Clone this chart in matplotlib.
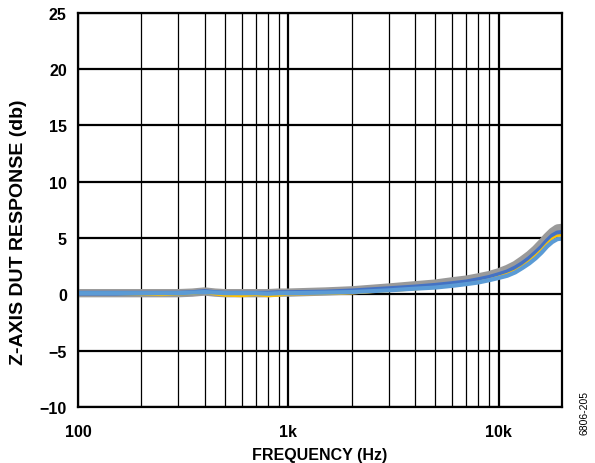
import numpy as np
import matplotlib.pyplot as plt
from matplotlib.ticker import FixedLocator, NullFormatter

plt.rcParams['font.family'] = ['Liberation Sans', 'DejaVu Sans']
plt.rcParams['font.weight'] = 'bold'

# frequency points (Hz)
freq = [100, 150, 200, 250, 300, 350, 400, 450, 500, 600, 700, 800, 900, 1000,
        1500, 2000, 3000, 4000, 5000, 6000, 7000, 8000, 9000, 10000,
        11000, 12000, 13000, 14000, 15000, 16000, 17000, 18000, 19000, 20000]

# response of each unit (dB)
resp_grey = [0.1, 0.1, 0.1, 0.1, 0.1, 0.15, 0.25, 0.15, 0.1, 0.1, 0.1, 0.1, 0.15, 0.15,
             0.25, 0.35, 0.6, 0.8, 0.95, 1.15, 1.3, 1.5, 1.7, 1.95,
             2.25, 2.6, 3.05, 3.5, 4.0, 4.55, 5.1, 5.55, 5.85, 5.9]
resp_blue = [0.1, 0.1, 0.1, 0.1, 0.1, 0.15, 0.25, 0.15, 0.1, 0.1, 0.1, 0.1, 0.15, 0.15,
             0.2, 0.3, 0.5, 0.65, 0.8, 0.95, 1.1, 1.3, 1.5, 1.75,
             2.0, 2.35, 2.75, 3.2, 3.7, 4.2, 4.75, 5.2, 5.45, 5.5]
resp_orange = [0.05, 0.05, 0.0, -0.05, 0.0, 0.05, 0.15, 0.0, -0.1, -0.15, -0.05, -0.15, -0.1, 0.0,
               0.05, 0.1, 0.3, 0.45, 0.6, 0.75, 0.9, 1.1, 1.3, 1.55,
               1.8, 2.1, 2.5, 2.95, 3.45, 3.95, 4.5, 4.95, 5.2, 5.25]
resp_lblue = [0.1, 0.1, 0.1, 0.1, 0.1, 0.15, 0.2, 0.15, 0.1, 0.1, 0.1, 0.05, 0.1, 0.1,
              0.15, 0.2, 0.35, 0.5, 0.6, 0.75, 0.9, 1.05, 1.25, 1.45,
              1.65, 1.95, 2.35, 2.75, 3.2, 3.7, 4.25, 4.65, 4.9, 4.95]

y_ticks = [-10, -5, 0, 5, 10, 15, 20, 25]
y_labels = ['\u221210', '\u22125', '0', '5', '10', '15', '20', '25']
x_ticks = [100, 1000, 10000]
x_labels = ['100', '1k', '10k']

fig = plt.figure(figsize=(5.95, 4.64), dpi=100)
ax = fig.add_axes([0.131, 0.121, 0.8135, 0.849])

ax.plot(freq, resp_grey, color='#9a9a9a', lw=6, solid_capstyle='butt', zorder=3)
ax.plot(freq, resp_blue, color='#4472c4', lw=3.5, solid_capstyle='butt', zorder=4)
ax.plot(freq, resp_orange, color='#ffc000', lw=1.8, solid_capstyle='butt', zorder=5)
ax.plot(freq, resp_lblue, color='#5b9bd5', lw=3, solid_capstyle='butt', zorder=6)

ax.set_xscale('log')
ax.set_xlim(100, 20000)
ax.set_ylim(-10, 25)

ax.xaxis.set_major_locator(FixedLocator(x_ticks))
ax.set_xticklabels(x_labels)
minor = [m * d for d in (100, 1000) for m in range(2, 10)]
ax.xaxis.set_minor_locator(FixedLocator(minor))
ax.xaxis.set_minor_formatter(NullFormatter())
ax.set_yticks(y_ticks)
ax.set_yticklabels(y_labels)

ax.grid(True, which='major', color='black', lw=1.6, zorder=1)
ax.grid(True, which='minor', axis='x', color='black', lw=0.9, zorder=1)
ax.tick_params(which='both', length=0, labelsize=11.5, pad=8)
ax.tick_params(axis='x', pad=12)
for s in ax.spines.values():
    s.set_linewidth(1.6)
    s.set_zorder(7)

ax.set_xlabel('FREQUENCY (Hz)', fontsize=11.5, fontweight='bold', labelpad=6)
ax.set_ylabel('Z-AXIS DUT RESPONSE (db)', fontsize=14, fontweight='bold')
ax.yaxis.set_label_coords(-0.105, 0.447)

fig.text(0.983, 0.11, '6806-205', rotation=90, fontsize=7.5, fontweight='normal',
         ha='center', va='center')

fig.savefig('out.png', dpi=100)
